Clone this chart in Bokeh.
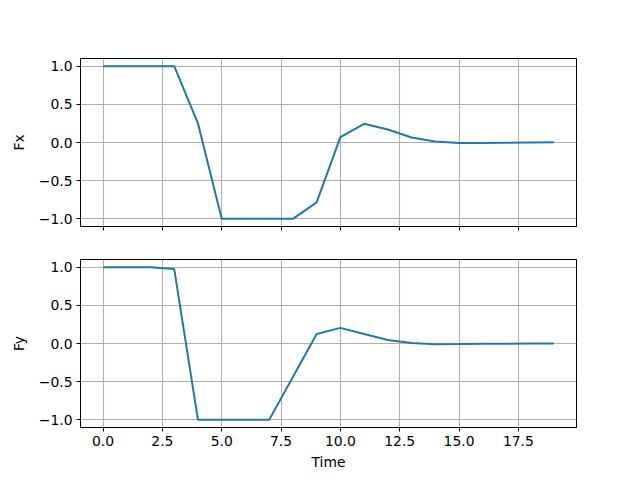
from bokeh.plotting import figure
from bokeh.layouts import column
from bokeh.models import Range1d, FixedTicker
from bokeh.embed import file_html
from bokeh.resources import INLINE

time = list(range(20))
fx = [1.0, 1.0, 1.0, 1.0, 0.25, -1.0, -1.0, -1.0, -1.0, -0.785,
      0.07, 0.245, 0.17, 0.066, 0.012, -0.005, -0.006, -0.004, -0.001, 0.002]
fy = [1.0, 1.0, 1.0, 0.975, -1.0, -1.0, -1.0, -1.0, -0.44, 0.125,
      0.205, 0.125, 0.045, 0.008, -0.01, -0.008, -0.004, -0.002, 0.0, 0.0]

x_ticks = [0, 2.5, 5, 7.5, 10, 12.5, 15, 17.5]
x_tick_labels = ["0.0", "2.5", "5.0", "7.5", "10.0", "12.5", "15.0", "17.5"]
y_ticks = [-1.0, -0.5, 0.0, 0.5, 1.0]
y_tick_labels = ["\u22121.0", "\u22120.5", "0.0", "0.5", "1.0"]

FONT = "DejaVu Sans"
FSIZE = "13.9px"
LINE = "#1f77b4"

xr = Range1d(-0.95, 19.95)


def make_fig(y, ylabel, height, top, bottom, show_xlabels, xlabel=None):
    p = figure(width=632, height=height, x_range=xr, y_range=Range1d(-1.1, 1.1),
               output_backend="svg", toolbar_location=None,
               min_border_left=80, min_border_right=56,
               min_border_top=top, min_border_bottom=bottom)
    p.line(time, y, line_color=LINE, line_width=2)
    p.outline_line_color = "black"
    p.outline_line_width = 1
    p.outline_line_alpha = 1.0
    p.background_fill_color = "white"
    p.border_fill_color = "white"
    for g in (p.xgrid, p.ygrid):
        g.grid_line_color = "#b0b0b0"
        g.grid_line_width = 1.1
    p.xaxis.ticker = FixedTicker(ticks=x_ticks)
    p.yaxis.ticker = FixedTicker(ticks=y_ticks)
    if show_xlabels:
        p.xaxis.major_label_overrides = dict(zip(x_ticks, x_tick_labels))
    else:
        p.xaxis.major_label_overrides = {t: "" for t in x_ticks}
    p.yaxis.major_label_overrides = dict(zip(y_ticks, y_tick_labels))
    for ax in (p.xaxis, p.yaxis):
        ax.axis_line_color = "black"
        ax.axis_line_width = 1
        ax.major_tick_line_color = "black"
        ax.major_tick_line_width = 1
        ax.major_tick_out = 4
        ax.major_tick_in = 0
        ax.minor_tick_line_color = None
        ax.major_label_text_font = FONT
        ax.major_label_text_font_size = FSIZE
        ax.major_label_text_color = "black"
        ax.major_label_standoff = 4
        ax.axis_label_text_font = FONT
        ax.axis_label_text_font_size = FSIZE
        ax.axis_label_text_font_style = "normal"
        ax.axis_label_text_color = "black"
    p.yaxis.axis_label = ylabel
    p.yaxis.axis_label_standoff = 9
    if xlabel:
        p.xaxis.axis_label = xlabel
        p.xaxis.axis_label_standoff = 5
    return p


p1 = make_fig(fx, "Fx", 58 + 168 + 28, 58, 28, False)
p2 = make_fig(fy, "Fy", 5 + 168 + 45, 5, 45, True, "Time")

layout = column(p1, p2)
open("out.html", "w").write(file_html(layout, INLINE))
